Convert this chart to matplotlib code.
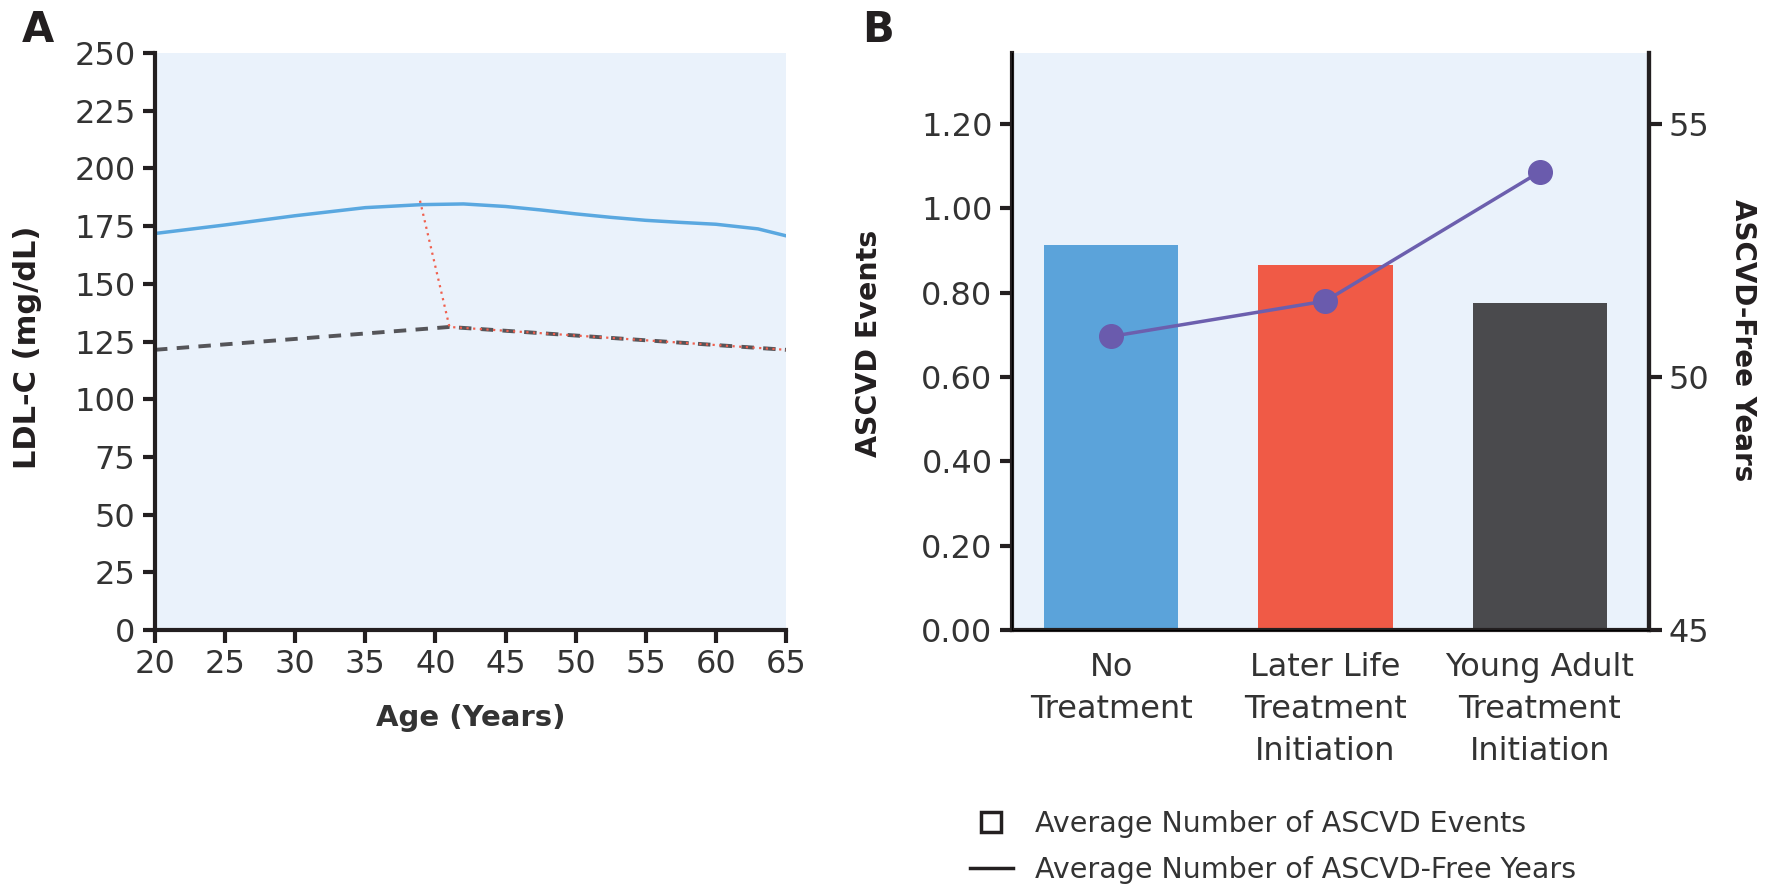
import matplotlib.pyplot as plt
import numpy as np
from matplotlib.lines import Line2D

plt.rcParams['font.family'] = ['DejaVu Sans']

# Panel A: LDL-C trajectories
ages = [20, 25, 30, 35, 39, 42, 45, 47.5, 50, 52.5, 55, 57.5, 60, 63, 65]
ldl_untreated = [171.8, 175.5, 179.5, 183.0, 184.3, 184.6, 183.5, 182.0, 180.3, 178.8,
                 177.5, 176.6, 175.8, 173.8, 170.8]
ages_treated = [20, 41, 65]
ldl_treated = [121.4, 131.3, 121.4]
ages_switch = [38.9, 41, 65]
ldl_switch = [186.0, 131.3, 121.4]

# Panel B: outcomes
groups = ["No\nTreatment", "Later Life\nTreatment\nInitiation", "Young Adult\nTreatment\nInitiation"]
events = [0.913, 0.866, 0.776]
free_years = [50.8, 51.5, 54.05]
bar_colors = ['#5BA3DA', '#F05A46', '#4A4A4D']

BG = '#EAF2FB'
INK = '#231F20'
TXT = '#333333'

fig = plt.figure(figsize=(17.69, 8.91), dpi=100)

# ---- Panel A
ax = fig.add_axes([155/1769, 1-630/891, (786-155)/1769, (630-53)/891])
ax.set_facecolor(BG)
ax.plot(ages, ldl_untreated, color='#5AA8E0', lw=2.5)
ax.plot(ages_treated, ldl_treated, color='#555559', lw=2.8, ls=(0, (3.2, 2.4)))
ax.plot(ages_switch, ldl_switch, color='#F0604E', lw=1.6, ls=(0, (1, 2)))
ax.set_xlim(20, 65)
ax.set_ylim(0, 250)
ax.set_xticks(range(20, 66, 5))
ax.set_yticks(range(0, 251, 25))
for s in ['top', 'right']:
    ax.spines[s].set_visible(False)
for s in ['left', 'bottom']:
    ax.spines[s].set_linewidth(3)
    ax.spines[s].set_color(INK)
ax.tick_params(axis='both', labelsize=23, width=3, length=9, color=INK, labelcolor=TXT, pad=5)
ax.set_ylabel('LDL-C (mg/dL)', fontsize=22, fontweight='bold', color=INK)
ax.yaxis.set_label_coords(-0.179, 0.49)
ax.set_xlabel('Age (Years)', fontsize=21, fontweight='bold', color=TXT)
ax.xaxis.set_label_coords(0.5, -0.128)
fig.text(22/1769, 1-30/891, 'A', fontsize=30, fontweight='bold', va='center', ha='left', color=INK)

# ---- Panel B
bx = fig.add_axes([1012/1769, 1-630/891, (1649-1012)/1769, (630-53)/891])
bx.set_facecolor(BG)
x = np.arange(len(groups))
bx.bar(x, events, width=0.626, color=bar_colors, zorder=2)
bx.set_xlim(-0.463, 2.51)
bx.set_ylim(0, 1.368)
ev_ticks = np.arange(0, 1.21, 0.2)
bx.set_yticks(ev_ticks)
bx.set_yticklabels([f'{v:.2f}' for v in ev_ticks])
bx.set_xticks(x)
bx.set_xticklabels(groups, linespacing=1.45)
bx.spines['top'].set_visible(False)
for s in ['left', 'right', 'bottom']:
    bx.spines[s].set_linewidth(3)
    bx.spines[s].set_color(INK)
bx.tick_params(axis='y', labelsize=23, width=3, length=9, color=INK, labelcolor=TXT, pad=5)
bx.tick_params(axis='x', labelsize=23, length=0, labelcolor=TXT, pad=16)
bx.set_ylabel('ASCVD Events', fontsize=20.5, fontweight='bold', color=INK)
bx.yaxis.set_label_coords(-0.2025, 0.496)

rx = bx.twinx()
rx.plot(x, free_years, color='#6C5FAE', lw=2.5, marker='o', ms=17,
        markerfacecolor='#6A5BAD', markeredgecolor='#6A5BAD', zorder=5)
rx.set_ylim(45, 45 + 1.368 / 1.2 * 10)
rx.set_yticks([45, 50, 55])
rx.spines['top'].set_visible(False)
rx.spines['right'].set_linewidth(3)
rx.spines['right'].set_color(INK)
rx.tick_params(axis='y', labelsize=23, width=3, length=9, color=INK, labelcolor=TXT, pad=5)
rx.set_ylabel('ASCVD-Free Years', fontsize=20, fontweight='bold', color=INK, rotation=-90, va='center')
rx.yaxis.set_label_coords(1.148, 0.503)
fig.text(862/1769, 1-30/891, 'B', fontsize=30, fontweight='bold', va='center', ha='left', color=INK)

handles = [Line2D([], [], marker='s', ls='none', ms=14, mfc='white', mec=INK, mew=2.5),
           Line2D([], [], color=INK, lw=2.5)]
fig.legend(handles, ['Average Number of ASCVD Events', 'Average Number of ASCVD-Free Years'],
           loc='center left', bbox_to_anchor=(970/1769, 1-847/891), frameon=False,
           fontsize=20.5, handlelength=1.5, handletextpad=0.8, borderpad=0,
           borderaxespad=0, labelspacing=0.62, labelcolor=TXT)

fig.savefig('out.png', dpi=100, facecolor='white')
